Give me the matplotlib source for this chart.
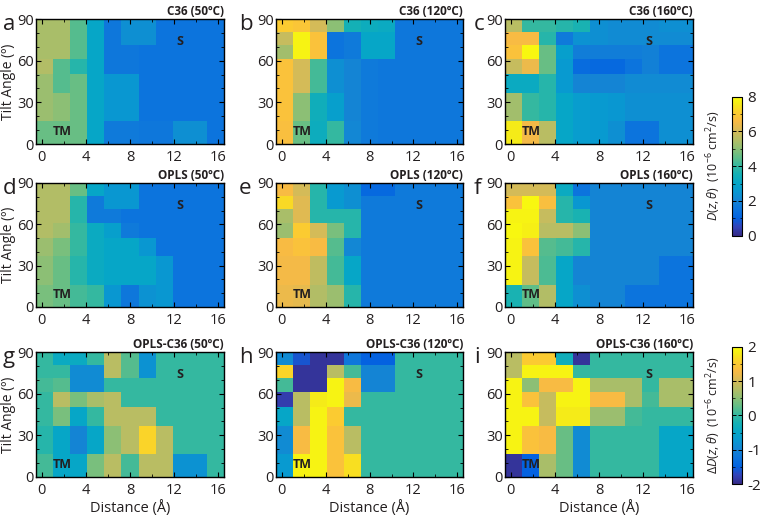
import numpy as np
import matplotlib
matplotlib.use("Agg")
import matplotlib.pyplot as plt
from matplotlib.colors import LinearSegmentedColormap
from matplotlib.ticker import MultipleLocator

plt.rcParams['font.family'] = ['Open Sans', 'DejaVu Sans']
plt.rcParams['mathtext.fontset'] = 'custom'
plt.rcParams['mathtext.rm'] = 'Open Sans'
plt.rcParams['mathtext.it'] = 'Open Sans:italic'
plt.rcParams['axes.unicode_minus'] = False

# ---------------- data ----------------
distance_edges = np.linspace(-0.5, 16.5, 12)          # 11 distance bins (Å)
tilt_edges = [0, 16.3, 36.9, 50.2, 61.3, 71.3, 80.8, 90]  # 7 tilt bins (deg)
x_ticks = [0, 4, 8, 12, 16]
y_ticks = [0, 30, 60, 90]

# rows listed top (80.8-90) to bottom (0-16.3)
c36_50 = [
    [5.4, 5.4, 4.4, 3.0, 1.6, 2.3, 2.3, 1.5, 1.5, 1.5, 1.5],
    [5.4, 5.4, 4.4, 3.0, 1.6, 2.3, 2.3, 1.5, 1.5, 1.5, 1.5],
    [5.4, 5.4, 4.4, 3.0, 1.6, 1.6, 1.5, 1.5, 1.5, 1.5, 1.5],
    [5.5, 4.4, 3.8, 3.0, 1.6, 1.6, 1.5, 1.5, 1.5, 1.5, 1.5],
    [5.2, 4.4, 4.6, 3.0, 2.5, 2.5, 1.5, 1.5, 1.5, 1.5, 1.5],
    [5.2, 5.0, 4.6, 3.0, 2.5, 2.5, 1.5, 1.5, 1.5, 1.5, 1.5],
    [4.6, 4.6, 4.6, 3.0, 1.7, 1.7, 1.6, 1.6, 2.3, 2.3, 1.5],
]
c36_120 = [
    [7.0, 6.9, 6.0, 5.0, 3.5, 3.3, 3.2, 1.6, 1.6, 1.6, 1.6],
    [5.8, 7.8, 6.8, 1.5, 1.7, 3.0, 3.0, 1.6, 1.6, 1.6, 1.6],
    [5.3, 7.8, 6.8, 1.5, 1.7, 3.0, 3.0, 1.6, 1.6, 1.6, 1.6],
    [6.8, 6.0, 4.2, 2.3, 2.0, 1.7, 1.6, 1.6, 1.6, 1.6, 1.6],
    [6.8, 6.0, 4.2, 2.3, 2.0, 1.7, 1.6, 1.6, 1.6, 1.6, 1.6],
    [6.8, 5.0, 3.4, 2.8, 2.0, 1.7, 1.6, 1.6, 1.6, 1.6, 1.6],
    [6.7, 4.6, 3.3, 4.0, 2.1, 1.7, 1.6, 1.6, 1.6, 1.6, 1.6],
]
c36_160 = [
    [5.6, 4.0, 4.0, 3.8, 3.6, 2.3, 2.2, 2.2, 2.2, 2.3, 2.3],
    [6.6, 6.6, 3.8, 1.7, 2.4, 2.3, 2.2, 2.2, 2.2, 2.2, 2.2],
    [6.8, 7.9, 4.6, 2.8, 1.8, 1.8, 1.8, 1.8, 1.9, 1.5, 1.5],
    [5.8, 6.4, 4.6, 2.6, 1.3, 1.2, 1.2, 1.5, 1.9, 1.5, 1.5],
    [3.2, 3.2, 3.8, 2.6, 2.0, 2.0, 2.0, 2.2, 2.2, 2.2, 2.2],
    [5.3, 4.0, 3.8, 3.0, 2.7, 2.6, 2.5, 2.3, 2.3, 2.3, 2.3],
    [7.6, 6.5, 5.6, 3.0, 2.7, 2.6, 2.3, 1.5, 1.5, 2.3, 2.3],
]
opls_50 = [
    [5.5, 5.5, 4.6, 3.0, 2.5, 2.5, 1.5, 1.5, 1.5, 1.5, 1.5],
    [5.5, 5.5, 3.8, 1.7, 2.5, 2.5, 1.5, 1.5, 1.5, 1.5, 1.5],
    [5.5, 5.5, 3.8, 1.7, 1.7, 1.5, 1.5, 1.5, 1.5, 1.5, 1.5],
    [5.5, 5.3, 4.0, 3.2, 2.8, 1.7, 1.5, 1.5, 1.5, 1.5, 1.5],
    [5.2, 4.8, 4.0, 3.2, 3.0, 3.0, 2.5, 1.5, 1.5, 1.5, 1.5],
    [5.0, 4.6, 3.8, 3.2, 3.0, 3.0, 3.0, 2.5, 1.5, 1.5, 1.5],
    [4.8, 4.6, 4.2, 4.0, 2.5, 1.6, 2.4, 2.5, 1.5, 1.5, 1.5],
]
opls_120 = [
    [6.6, 6.0, 3.8, 2.6, 2.3, 1.2, 1.2, 1.7, 1.7, 1.7, 1.7],
    [7.3, 6.2, 3.8, 2.6, 2.3, 1.7, 1.7, 1.7, 1.7, 1.7, 1.7],
    [5.4, 6.2, 3.8, 3.8, 3.8, 1.7, 1.7, 1.7, 1.7, 1.7, 1.7],
    [5.2, 7.0, 6.0, 4.8, 3.8, 1.7, 1.7, 1.7, 1.7, 1.7, 1.7],
    [6.6, 6.8, 6.6, 4.4, 2.1, 1.7, 1.7, 1.7, 1.7, 1.7, 1.7],
    [6.5, 6.5, 5.7, 4.2, 3.0, 1.7, 1.7, 1.7, 1.7, 1.7, 1.7],
    [6.4, 6.3, 5.5, 5.2, 3.8, 1.7, 1.7, 1.7, 1.7, 1.7, 1.7],
]
opls_160 = [
    [6.0, 6.0, 6.0, 3.2, 1.5, 2.0, 2.0, 2.0, 2.0, 2.0, 2.0],
    [6.8, 7.9, 6.7, 3.8, 2.5, 2.0, 2.0, 2.0, 2.0, 2.0, 2.0],
    [7.8, 7.8, 5.8, 3.8, 3.6, 2.0, 2.0, 2.0, 2.0, 2.0, 2.0],
    [7.9, 7.7, 5.6, 5.6, 5.0, 2.0, 2.0, 2.0, 2.0, 2.0, 2.0],
    [7.8, 6.8, 4.4, 4.2, 3.8, 2.0, 2.0, 2.0, 2.0, 2.0, 2.0],
    [7.8, 5.8, 4.3, 3.0, 2.0, 2.0, 2.0, 2.0, 2.0, 1.5, 1.5],
    [3.6, 4.5, 5.5, 3.0, 2.3, 2.0, 2.0, 1.5, 1.5, 1.5, 1.5],
]
diff_50 = [
    [0.0, -0.4, -0.4, 0.0, 0.8, 0.2, -0.8, 0.0, 0.0, 0.0, 0.0],
    [0.0, 0.0, -0.9, -0.9, 0.8, 0.2, -0.8, 0.0, 0.0, 0.0, 0.0],
    [0.1, 0.2, -0.9, -0.9, 0.0, 0.0, 0.0, 0.0, 0.0, 0.0, 0.0],
    [0.0, 0.8, 0.4, 0.7, 0.8, 0.0, 0.0, 0.0, 0.0, 0.0, 0.0],
    [0.0, 0.4, -0.5, 0.0, 0.8, 0.8, 0.8, 0.0, 0.0, 0.0, 0.0],
    [-0.1, -0.5, -1.0, -0.5, 0.5, 0.8, 1.6, 0.8, 0.0, 0.0, 0.0],
    [0.1, -0.5, -0.5, 0.4, 0.8, 0.1, 0.8, 0.8, -0.8, -0.8, 0.0],
]
diff_120 = [
    [-0.9, -1.6, -1.9, -1.9, -1.2, -1.5, -1.5, 0.0, 0.0, 0.0, 0.0],
    [1.6, -1.9, -1.9, 0.8, 0.1, -1.0, -1.0, 0.0, 0.0, 0.0, 0.0],
    [0.1, -1.9, -1.9, 1.9, 1.3, -1.0, -1.0, 0.0, 0.0, 0.0, 0.0],
    [-1.8, 0.8, 1.8, 1.9, 1.2, 0.0, 0.0, 0.0, 0.0, 0.0, 0.0],
    [-0.5, 0.8, 1.9, 1.5, 0.0, 0.0, 0.0, 0.0, 0.0, 0.0, 0.0],
    [-0.9, 1.3, 1.9, 1.4, 0.8, 0.0, 0.0, 0.0, 0.0, 0.0, 0.0],
    [-0.7, 1.9, 1.9, 1.4, 1.7, 0.0, 0.0, 0.0, 0.0, 0.0, 0.0],
]
diff_160 = [
    [0.8, 1.5, 1.5, -0.3, -1.9, 0.0, 0.0, 0.0, 0.0, 0.0, 0.0],
    [0.8, 1.9, 1.9, 1.9, 0.0, 0.0, 0.0, 0.0, 0.0, 0.0, 0.0],
    [1.9, 0.5, 1.3, 1.3, 1.9, 0.7, 0.7, 0.7, 0.0, 0.7, 0.7],
    [1.9, 1.4, 0.9, 1.9, 1.9, 1.3, 1.3, 0.7, 0.1, 0.7, 0.7],
    [1.9, 1.9, 0.9, 1.8, 1.8, 0.6, 0.6, 0.1, 0.0, 0.0, 0.0],
    [1.9, 1.4, 1.3, 0.3, -0.9, 0.0, 0.0, 0.0, 0.0, -0.5, -0.5],
    [-1.9, -1.5, 0.7, 0.3, -0.9, 0.0, 0.0, 0.0, 0.0, -0.5, -0.5],
]

panel_letters = ['a', 'b', 'c', 'd', 'e', 'f', 'g', 'h', 'i']
panel_titles = ['C36 (50ºC)', 'C36 (120ºC)', 'C36 (160ºC)',
                'OPLS (50ºC)', 'OPLS (120ºC)', 'OPLS (160ºC)',
                'OPLS-C36 (50ºC)', 'OPLS-C36 (120ºC)', 'OPLS-C36 (160ºC)']
panel_data = [c36_50, c36_120, c36_160, opls_50, opls_120, opls_160,
              diff_50, diff_120, diff_160]

# ---------------- parula colormap ----------------
parula_pts = [
    [0.2081, 0.1663, 0.5292], [0.1959, 0.2645, 0.7279], [0.0117, 0.3875, 0.8820],
    [0.0498, 0.4586, 0.8641], [0.0793, 0.5200, 0.8312], [0.0343, 0.5966, 0.8199],
    [0.0228, 0.6535, 0.7768], [0.0843, 0.6928, 0.7062], [0.2178, 0.7250, 0.6193],
    [0.3953, 0.7459, 0.5244], [0.5709, 0.7485, 0.4494], [0.7184, 0.7411, 0.3905],
    [0.8507, 0.7299, 0.3360], [0.9739, 0.7314, 0.2666], [0.9880, 0.8066, 0.1794],
    [0.9599, 0.9218, 0.0948], [0.9763, 0.9831, 0.0538]]
pos = np.array([0, 4, 8, 12, 16, 20, 24, 28, 32, 36, 40, 44, 48, 52, 56, 60, 63]) / 63.0
parula = LinearSegmentedColormap.from_list('parula', list(zip(pos, parula_pts)), N=256)

# ---------------- layout ----------------
W, H = 762, 516
fig = plt.figure(figsize=(W / 100, H / 100), dpi=100)

def rect(l, t, r, b):
    return [l / W, 1 - b / H, (r - l) / W, (b - t) / H]

col_px = [(36, 224), (276, 463), (505, 693)]
row_px = [(19, 144), (183, 307), (352, 477)]
letter_x = [3, 239, 474]

txt_col = '#231f20'
meshes = []
for i in range(9):
    r, c = divmod(i, 3)
    ax = fig.add_axes(rect(col_px[c][0], row_px[r][0], col_px[c][1], row_px[r][1]))
    Z = np.array(panel_data[i])[::-1]
    if r < 2:
        m = ax.pcolormesh(distance_edges, tilt_edges, Z, cmap=parula, vmin=0, vmax=8)
    else:
        m = ax.pcolormesh(distance_edges, tilt_edges, Z, cmap=parula, vmin=-2, vmax=2)
    meshes.append(m)
    ax.set_xlim(-0.5, 16.5)
    ax.set_ylim(0, 90)
    ax.set_xticks(x_ticks)
    ax.set_yticks(y_ticks)
    ax.xaxis.set_minor_locator(MultipleLocator(2))
    ax.yaxis.set_minor_locator(MultipleLocator(10))
    ax.tick_params(which='both', direction='in', top=True, right=True, colors='black',
                   labelcolor=txt_col)
    ax.tick_params(which='major', length=3.5, width=0.8, labelsize=10.5)
    ax.tick_params(which='minor', length=2, width=0.6)
    ax.tick_params(axis='y', pad=1.5)
    ax.tick_params(axis='x', pad=4)
    for s in ax.spines.values():
        s.set_linewidth(1.0)
    ax.text(1.0, 1.012, panel_titles[i], transform=ax.transAxes, ha='right', va='bottom',
            fontsize=8.5, fontweight='bold', color=txt_col)
    ax.text(1.9, 9, 'TM', ha='center', va='center', fontsize=9, fontweight='bold',
            color=txt_col)
    ax.text(12.5, 74, 'S', ha='center', va='center', fontsize=9, fontweight='bold',
            color=txt_col)
    if c == 0:
        ax.set_ylabel('Tilt Angle (º)', fontsize=10, color=txt_col, labelpad=1)
    if r == 2:
        ax.set_xlabel('Distance (Å)', fontsize=10.5, color=txt_col, labelpad=2)
    fig.text(letter_x[c] / W, 1 - (row_px[r][0] + 11) / H, panel_letters[i],
             fontsize=16, color=txt_col, ha='left', va='baseline')

# colorbars
cax1 = fig.add_axes(rect(731.7, 96.7, 741.7, 235.7))
cb1 = fig.colorbar(meshes[0], cax=cax1, ticks=[0, 2, 4, 6, 8])
cax2 = fig.add_axes(rect(731.7, 346.7, 741.7, 484))
cb2 = fig.colorbar(meshes[6], cax=cax2, ticks=[-2, -1, 0, 1, 2])
for cb, minor, lab in [(cb1, 1, r'$D(z,\theta)$  (10$^{-6}$ cm$^2$/s)'),
                       (cb2, 0.5, r'$\Delta D(z,\theta)$  (10$^{-6}$ cm$^2$/s)')]:
    cb.outline.set_linewidth(0.8)
    cb.ax.yaxis.set_minor_locator(MultipleLocator(minor))
    cb.ax.tick_params(which='both', direction='in', left=True, right=True,
                      labelsize=11, labelcolor=txt_col)
    cb.ax.tick_params(which='major', length=3, width=0.7, pad=4)
    cb.ax.tick_params(which='minor', length=1.8, width=0.5)
    cb.ax.yaxis.set_label_position('left')
    cb.set_label(lab, fontsize=9, color=txt_col, labelpad=6)

fig.savefig('out.png', dpi=100)
